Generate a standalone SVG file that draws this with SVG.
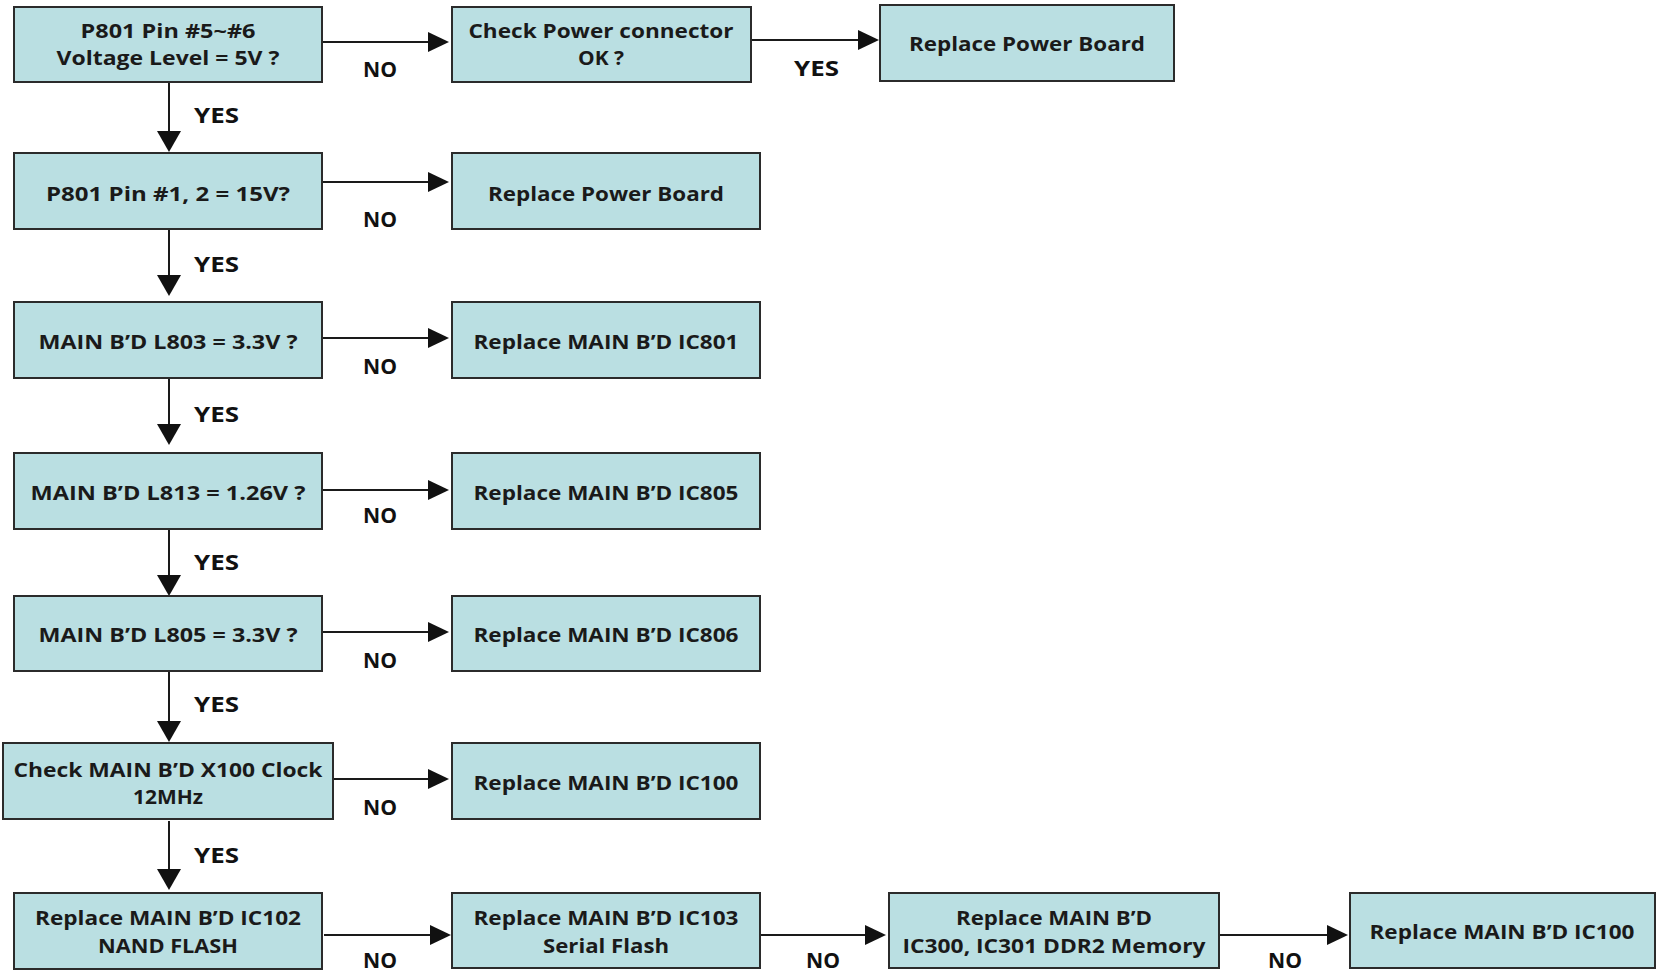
<svg xmlns="http://www.w3.org/2000/svg" width="1657" height="971" viewBox="0 0 1657 971">
<style>
.box{fill:#badfe2;stroke:#2b2b2b;stroke-width:2}
.t{font-family:"Open Sans","Liberation Sans",sans-serif;font-weight:700;font-size:20px;fill:#1a1a1a;text-anchor:middle}
.l{font-family:"Open Sans","Liberation Sans",sans-serif;font-weight:700;font-size:22px;fill:#111}
.c{stroke:#1a1a1a;stroke-width:2;fill:none}
.h{fill:#111}
</style>
<rect width="1657" height="971" fill="#fff"/>
<g id="connectors">
<line class="c" x1="322" y1="42" x2="428" y2="42"/><path class="h" d="M428,32 L449,42 L428,52 Z"/>
<line class="c" x1="751" y1="40" x2="858" y2="40"/><path class="h" d="M858,30 L879,40 L858,50 Z"/>
<line class="c" x1="322" y1="182" x2="428" y2="182"/><path class="h" d="M428,172 L449,182 L428,192 Z"/>
<line class="c" x1="322" y1="338" x2="428" y2="338"/><path class="h" d="M428,328 L449,338 L428,348 Z"/>
<line class="c" x1="322" y1="490" x2="428" y2="490"/><path class="h" d="M428,480 L449,490 L428,500 Z"/>
<line class="c" x1="322" y1="632" x2="428" y2="632"/><path class="h" d="M428,622 L449,632 L428,642 Z"/>
<line class="c" x1="333" y1="779" x2="428" y2="779"/><path class="h" d="M428,769 L449,779 L428,789 Z"/>
<line class="c" x1="324" y1="935" x2="430" y2="935"/><path class="h" d="M430,925 L451,935 L430,945 Z"/>
<line class="c" x1="760" y1="935" x2="865" y2="935"/><path class="h" d="M865,925 L886,935 L865,945 Z"/>
<line class="c" x1="1219" y1="935" x2="1327" y2="935"/><path class="h" d="M1327,925 L1348,935 L1327,945 Z"/>
<line class="c" x1="169" y1="82" x2="169" y2="131"/><path class="h" d="M157,131 L181,131 L169,152 Z"/>
<line class="c" x1="169" y1="229" x2="169" y2="275"/><path class="h" d="M157,275 L181,275 L169,296 Z"/>
<line class="c" x1="169" y1="378" x2="169" y2="424"/><path class="h" d="M157,424 L181,424 L169,445 Z"/>
<line class="c" x1="169" y1="529" x2="169" y2="575"/><path class="h" d="M157,575 L181,575 L169,596 Z"/>
<line class="c" x1="169" y1="671" x2="169" y2="721"/><path class="h" d="M157,721 L181,721 L169,742 Z"/>
<line class="c" x1="169" y1="821" x2="169" y2="869"/><path class="h" d="M157,869 L181,869 L169,890 Z"/>
<text class="l" x="363" y="77" textLength="34" lengthAdjust="spacingAndGlyphs">NO</text>
<text class="l" x="794" y="76" textLength="45" lengthAdjust="spacingAndGlyphs">YES</text>
<text class="l" x="363" y="227" textLength="34" lengthAdjust="spacingAndGlyphs">NO</text>
<text class="l" x="363" y="374" textLength="34" lengthAdjust="spacingAndGlyphs">NO</text>
<text class="l" x="363" y="523" textLength="34" lengthAdjust="spacingAndGlyphs">NO</text>
<text class="l" x="363" y="668" textLength="34" lengthAdjust="spacingAndGlyphs">NO</text>
<text class="l" x="363" y="815" textLength="34" lengthAdjust="spacingAndGlyphs">NO</text>
<text class="l" x="363" y="968" textLength="34" lengthAdjust="spacingAndGlyphs">NO</text>
<text class="l" x="806" y="968" textLength="34" lengthAdjust="spacingAndGlyphs">NO</text>
<text class="l" x="1268" y="968" textLength="34" lengthAdjust="spacingAndGlyphs">NO</text>
<text class="l" x="194" y="123" textLength="45" lengthAdjust="spacingAndGlyphs">YES</text>
<text class="l" x="194" y="272" textLength="45" lengthAdjust="spacingAndGlyphs">YES</text>
<text class="l" x="194" y="422" textLength="45" lengthAdjust="spacingAndGlyphs">YES</text>
<text class="l" x="194" y="570" textLength="45" lengthAdjust="spacingAndGlyphs">YES</text>
<text class="l" x="194" y="712" textLength="45" lengthAdjust="spacingAndGlyphs">YES</text>
<text class="l" x="194" y="863" textLength="45" lengthAdjust="spacingAndGlyphs">YES</text>
</g>
<g id="n1"><rect class="box" x="14" y="7" width="308" height="75"/><text class="t" x="168" y="38" textLength="175" lengthAdjust="spacingAndGlyphs">P801 Pin #5~#6</text><text class="t" x="168" y="65" textLength="223" lengthAdjust="spacingAndGlyphs">Voltage Level = 5V ?</text></g>
<g id="n2"><rect class="box" x="452" y="7" width="299" height="75"/><text class="t" x="601" y="38" textLength="265" lengthAdjust="spacingAndGlyphs">Check Power connector</text><text class="t" x="601" y="65" textLength="46" lengthAdjust="spacingAndGlyphs">OK ?</text></g>
<g id="n3"><rect class="box" x="880" y="5" width="294" height="76"/><text class="t" x="1027" y="51" textLength="236" lengthAdjust="spacingAndGlyphs">Replace Power Board</text></g>
<g id="n4"><rect class="box" x="14" y="153" width="308" height="76"/><text class="t" x="168" y="201" textLength="244" lengthAdjust="spacingAndGlyphs">P801 Pin #1, 2 = 15V?</text></g>
<g id="n5"><rect class="box" x="452" y="153" width="308" height="76"/><text class="t" x="606" y="201" textLength="236" lengthAdjust="spacingAndGlyphs">Replace Power Board</text></g>
<g id="n6"><rect class="box" x="14" y="302" width="308" height="76"/><text class="t" x="168" y="349" textLength="259" lengthAdjust="spacingAndGlyphs">MAIN B’D L803 = 3.3V ?</text></g>
<g id="n7"><rect class="box" x="452" y="302" width="308" height="76"/><text class="t" x="606" y="349" textLength="265" lengthAdjust="spacingAndGlyphs">Replace MAIN B’D IC801</text></g>
<g id="n8"><rect class="box" x="14" y="453" width="308" height="76"/><text class="t" x="168" y="500" textLength="275" lengthAdjust="spacingAndGlyphs">MAIN B’D L813 = 1.26V ?</text></g>
<g id="n9"><rect class="box" x="452" y="453" width="308" height="76"/><text class="t" x="606" y="500" textLength="265" lengthAdjust="spacingAndGlyphs">Replace MAIN B’D IC805</text></g>
<g id="n10"><rect class="box" x="14" y="596" width="308" height="75"/><text class="t" x="168" y="642" textLength="259" lengthAdjust="spacingAndGlyphs">MAIN B’D L805 = 3.3V ?</text></g>
<g id="n11"><rect class="box" x="452" y="596" width="308" height="75"/><text class="t" x="606" y="642" textLength="265" lengthAdjust="spacingAndGlyphs">Replace MAIN B’D IC806</text></g>
<g id="n12"><rect class="box" x="3" y="743" width="330" height="76"/><text class="t" x="168" y="777" textLength="309" lengthAdjust="spacingAndGlyphs">Check MAIN B’D X100 Clock</text><text class="t" x="168" y="804" textLength="70" lengthAdjust="spacingAndGlyphs">12MHz</text></g>
<g id="n13"><rect class="box" x="452" y="743" width="308" height="76"/><text class="t" x="606" y="790" textLength="265" lengthAdjust="spacingAndGlyphs">Replace MAIN B’D IC100</text></g>
<g id="n14"><rect class="box" x="14" y="893" width="308" height="76"/><text class="t" x="168" y="925" textLength="266" lengthAdjust="spacingAndGlyphs">Replace MAIN B’D IC102</text><text class="t" x="168" y="953" textLength="140" lengthAdjust="spacingAndGlyphs">NAND FLASH</text></g>
<g id="n15"><rect class="box" x="452" y="893" width="308" height="75"/><text class="t" x="606" y="925" textLength="265" lengthAdjust="spacingAndGlyphs">Replace MAIN B’D IC103</text><text class="t" x="606" y="953" textLength="126" lengthAdjust="spacingAndGlyphs">Serial Flash</text></g>
<g id="n16"><rect class="box" x="889" y="893" width="330" height="75"/><text class="t" x="1054" y="925" textLength="196" lengthAdjust="spacingAndGlyphs">Replace MAIN B’D</text><text class="t" x="1054" y="953" textLength="303" lengthAdjust="spacingAndGlyphs">IC300, IC301 DDR2 Memory</text></g>
<g id="n17"><rect class="box" x="1350" y="893" width="305" height="75"/><text class="t" x="1502" y="939" textLength="265" lengthAdjust="spacingAndGlyphs">Replace MAIN B’D IC100</text></g>
</svg>
